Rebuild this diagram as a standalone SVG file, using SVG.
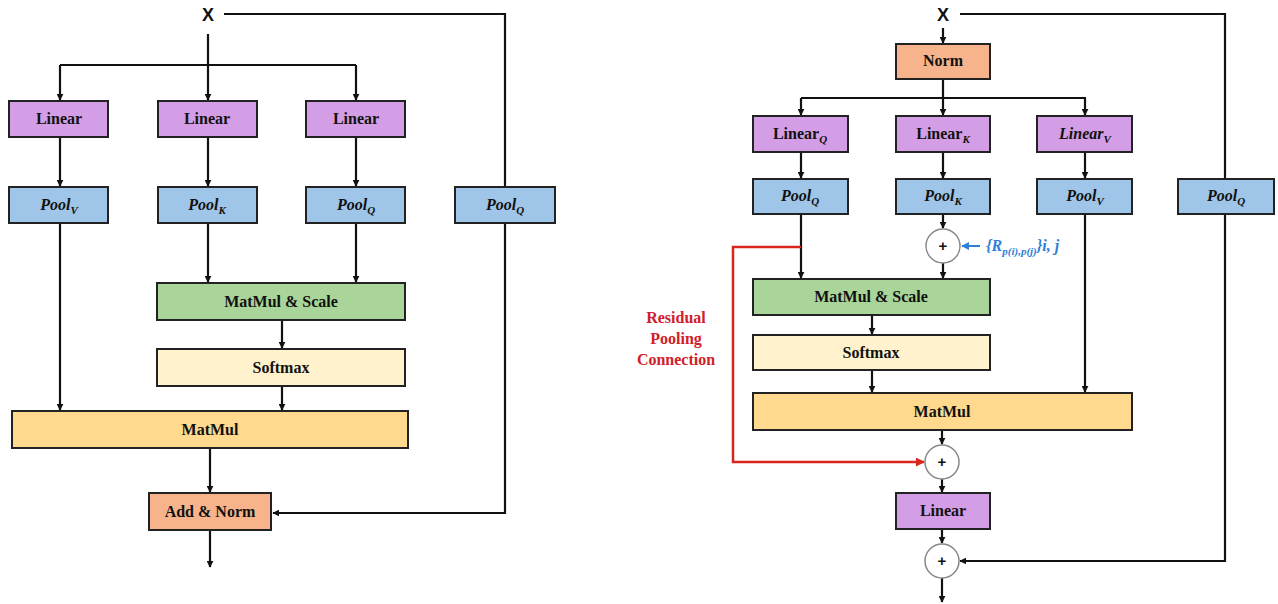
<svg xmlns="http://www.w3.org/2000/svg" width="1278" height="604" viewBox="0 0 1278 604">
<defs>
<marker id="ah" viewBox="0 0 10 10" refX="9" refY="5" markerWidth="7" markerHeight="7" orient="auto" markerUnits="userSpaceOnUse"><path d="M0,0 L10,5 L0,10 Z" fill="#111"/></marker>
<marker id="ahr" viewBox="0 0 10 10" refX="9" refY="5" markerWidth="9" markerHeight="9" orient="auto" markerUnits="userSpaceOnUse"><path d="M0,0 L10,5 L0,10 Z" fill="#d9261c"/></marker>
<marker id="ahb" viewBox="0 0 10 10" refX="9" refY="5" markerWidth="8" markerHeight="8" orient="auto" markerUnits="userSpaceOnUse"><path d="M0,0 L10,5 L0,10 Z" fill="#2f7fd8"/></marker>
</defs>
<style>
.box{stroke:#222;stroke-width:2}
.lin{fill:#d39ee6}
.pool{fill:#9fc5e8}
.mms{fill:#a9d49a}
.soft{fill:#fff2cc}
.mm{fill:#ffd98e}
.norm{fill:#f7b48c}
.lbl{font-family:"Liberation Serif",serif;font-weight:bold;font-size:16px;fill:#111;text-anchor:middle}
.it{font-style:italic}
.x{font-family:"Liberation Sans",Arial,sans-serif;font-weight:bold;font-size:18px;fill:#111;text-anchor:middle}
.c{fill:none;stroke:#111;stroke-width:2.2}
.red{fill:none;stroke:#d9261c;stroke-width:2.5}
.circ{fill:#fff;stroke:#888;stroke-width:1.5}
.plus{font-family:"Liberation Sans",Arial,sans-serif;font-weight:bold;font-size:15px;fill:#111;text-anchor:middle}
</style>
<rect width="1278" height="604" fill="#fff"/>

<g id="connectors">
<!-- left -->
<path class="c" d="M208,34 V65 M60,65 H356"/>
<path class="c" d="M60,65 V100" marker-end="url(#ah)"/>
<path class="c" d="M208,65 V100" marker-end="url(#ah)"/>
<path class="c" d="M356,65 V100" marker-end="url(#ah)"/>
<path class="c" d="M60,137 V186" marker-end="url(#ah)"/>
<path class="c" d="M208,137 V186" marker-end="url(#ah)"/>
<path class="c" d="M356,137 V186" marker-end="url(#ah)"/>
<path class="c" d="M60,223 V410" marker-end="url(#ah)"/>
<path class="c" d="M208,223 V282" marker-end="url(#ah)"/>
<path class="c" d="M356,223 V282" marker-end="url(#ah)"/>
<path class="c" d="M282,320 V348" marker-end="url(#ah)"/>
<path class="c" d="M282,386 V410" marker-end="url(#ah)"/>
<path class="c" d="M210,448 V492" marker-end="url(#ah)"/>
<path class="c" d="M210,530 V567" marker-end="url(#ah)"/>
<path class="c" d="M224,14 H505 V187"/>
<path class="c" d="M505,223 V513 H273" marker-end="url(#ah)"/>
<!-- right -->
<path class="c" d="M943,28 V43" marker-end="url(#ah)"/>
<path class="c" d="M943,79 V98 M801,98 H1086"/>
<path class="c" d="M801,98 V115" marker-end="url(#ah)"/>
<path class="c" d="M943,98 V115" marker-end="url(#ah)"/>
<path class="c" d="M1085,98 V115" marker-end="url(#ah)"/>
<path class="c" d="M801,152 V178" marker-end="url(#ah)"/>
<path class="c" d="M943,152 V178" marker-end="url(#ah)"/>
<path class="c" d="M1085,152 V178" marker-end="url(#ah)"/>
<path class="c" d="M801,214 V278" marker-end="url(#ah)"/>
<path class="c" d="M943,214 V228" marker-end="url(#ah)"/>
<path class="c" d="M943,263 V278" marker-end="url(#ah)"/>
<path class="c" d="M1085,214 V392" marker-end="url(#ah)"/>
<path class="c" d="M872,315 V334" marker-end="url(#ah)"/>
<path class="c" d="M872,370 V392" marker-end="url(#ah)"/>
<path class="c" d="M942,430 V444" marker-end="url(#ah)"/>
<path class="c" d="M942,479 V492" marker-end="url(#ah)"/>
<path class="c" d="M942,529 V543" marker-end="url(#ah)"/>
<path class="c" d="M942,578 V602" marker-end="url(#ah)"/>
<path class="c" d="M960,14 H1225 V179"/>
<path class="c" d="M1225,214 V561 H960" marker-end="url(#ah)"/>
<path class="red" d="M801,247 H733 V462 H924" marker-end="url(#ahr)"/>
<path d="M980,246 H962" fill="none" stroke="#2f7fd8" stroke-width="2" marker-end="url(#ahb)"/>
</g>

<!-- left diagram -->
<g id="L-x"><text class="x" x="208" y="21">X</text></g>
<g id="L-linear1"><rect class="box lin" x="9" y="101" width="99" height="36"/><text class="lbl" x="59" y="124">Linear</text></g>
<g id="L-linear2"><rect class="box lin" x="158" y="101" width="99" height="36"/><text class="lbl" x="207" y="124">Linear</text></g>
<g id="L-linear3"><rect class="box lin" x="306" y="101" width="99" height="36"/><text class="lbl" x="356" y="124">Linear</text></g>
<g id="L-poolV"><rect class="box pool" x="9" y="187" width="99" height="36"/><text class="lbl it" x="59" y="210">Pool<tspan font-size="11" dy="4">V</tspan></text></g>
<g id="L-poolK"><rect class="box pool" x="158" y="187" width="99" height="36"/><text class="lbl it" x="207" y="210">Pool<tspan font-size="11" dy="4">K</tspan></text></g>
<g id="L-poolQ"><rect class="box pool" x="306" y="187" width="99" height="36"/><text class="lbl it" x="356" y="210">Pool<tspan font-size="11" dy="4">Q</tspan></text></g>
<g id="L-poolQ2"><rect class="box pool" x="455" y="187" width="100" height="36"/><text class="lbl it" x="505" y="210">Pool<tspan font-size="11" dy="4">Q</tspan></text></g>
<g id="L-matmulscale"><rect class="box mms" x="157" y="283" width="248" height="37"/><text class="lbl" x="281" y="307">MatMul &amp; Scale</text></g>
<g id="L-softmax"><rect class="box soft" x="157" y="349" width="248" height="37"/><text class="lbl" x="281" y="373">Softmax</text></g>
<g id="L-matmul"><rect class="box mm" x="12" y="411" width="396" height="37"/><text class="lbl" x="210" y="435">MatMul</text></g>
<g id="L-addnorm"><rect class="box norm" x="149" y="493" width="122" height="37"/><text class="lbl" x="210" y="517">Add &amp; Norm</text></g>

<!-- right diagram -->
<g id="R-x"><text class="x" x="943" y="21">X</text></g>
<g id="R-norm"><rect class="box norm" x="896" y="44" width="94" height="35"/><text class="lbl" x="943" y="66">Norm</text></g>
<g id="R-linearQ"><rect class="box lin" x="753" y="116" width="95" height="36"/><text class="lbl" x="800" y="139">Linear<tspan class="it" font-size="11" dy="4">Q</tspan></text></g>
<g id="R-linearK"><rect class="box lin" x="896" y="116" width="94" height="36"/><text class="lbl" x="943" y="139">Linear<tspan class="it" font-size="11" dy="4">K</tspan></text></g>
<g id="R-linearV"><rect class="box lin" x="1037" y="116" width="95" height="36"/><text class="lbl it" x="1085" y="139">Linear<tspan font-size="11" dy="4">V</tspan></text></g>
<g id="R-poolQ"><rect class="box pool" x="753" y="179" width="95" height="35"/><text class="lbl it" x="800" y="201">Pool<tspan font-size="11" dy="4">Q</tspan></text></g>
<g id="R-poolK"><rect class="box pool" x="896" y="179" width="94" height="35"/><text class="lbl it" x="943" y="201">Pool<tspan font-size="11" dy="4">K</tspan></text></g>
<g id="R-poolV"><rect class="box pool" x="1037" y="179" width="95" height="35"/><text class="lbl it" x="1085" y="201">Pool<tspan font-size="11" dy="4">V</tspan></text></g>
<g id="R-poolQ2"><rect class="box pool" x="1178" y="179" width="96" height="35"/><text class="lbl it" x="1226" y="201">Pool<tspan font-size="11" dy="4">Q</tspan></text></g>
<g id="R-plus1"><circle class="circ" cx="943" cy="246" r="17"/><text class="plus" x="943" y="251">+</text></g>
<g id="R-rel"><text font-family="'Liberation Serif',serif" font-weight="bold" font-style="italic" font-size="16" fill="#2f7fd8" x="986" y="251">{R<tspan font-size="11" dy="4">p(i),p(j)</tspan><tspan dy="-4">}i, j</tspan></text></g>
<g id="R-matmulscale"><rect class="box mms" x="753" y="279" width="237" height="36"/><text class="lbl" x="871" y="302">MatMul &amp; Scale</text></g>
<g id="R-softmax"><rect class="box soft" x="753" y="335" width="237" height="35"/><text class="lbl" x="871" y="358">Softmax</text></g>
<g id="R-matmul"><rect class="box mm" x="753" y="393" width="379" height="37"/><text class="lbl" x="942" y="417">MatMul</text></g>
<g id="R-plus2"><circle class="circ" cx="942" cy="462" r="17"/><text class="plus" x="942" y="467">+</text></g>
<g id="R-linear"><rect class="box lin" x="896" y="493" width="94" height="36"/><text class="lbl" x="943" y="516">Linear</text></g>
<g id="R-plus3"><circle class="circ" cx="942" cy="561" r="17"/><text class="plus" x="942" y="566">+</text></g>
<g id="R-residual-label"><text font-family="'Liberation Serif',serif" font-weight="bold" font-size="16" fill="#d0202a" text-anchor="middle"><tspan x="676" y="323">Residual</tspan><tspan x="676" y="344">Pooling</tspan><tspan x="676" y="365">Connection</tspan></text></g>
</svg>
